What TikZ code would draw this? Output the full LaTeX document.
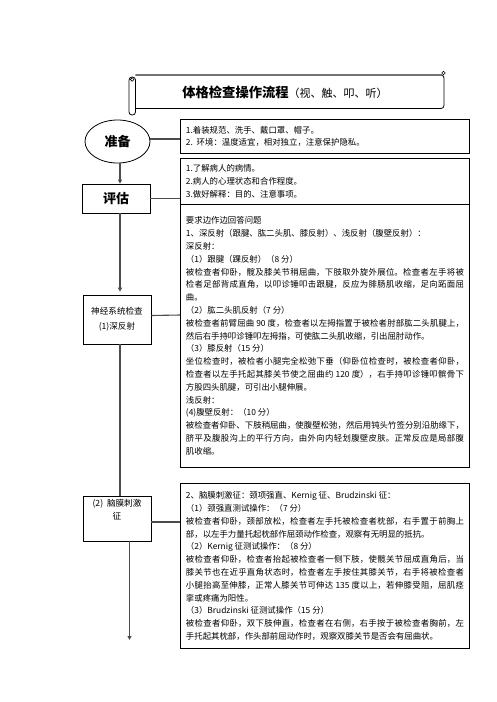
\documentclass[tikz,border=0pt]{standalone}
\usepackage{fontspec}
\setmainfont{Noto Sans CJK SC}
\usetikzlibrary{arrows.meta, shapes.geometric}
\XeTeXlinebreaklocale "zh"
\XeTeXlinebreakskip=0pt plus 1pt minus 0.1pt

\begin{document}
\begin{tikzpicture}[x=1pt, y=-1pt,
    txtbox/.style={draw, line width=0.9pt, anchor=north west, text width=278pt, inner xsep=5.5pt, align=justify, font=\fontsize{8.4}{12.8}\selectfont},
    stepbox/.style={draw, line width=0.8pt, minimum width=68pt, align=center},
    link/.style={draw=black!70, line width=1.1pt},
    arr/.style={link, -{Triangle[length=4pt, width=4pt]}}]
  \useasboundingbox (0,0) rectangle (496,702);
  % title scroll
  \draw[line width=0.8pt, rounded corners=3pt] (135,75) -- (444,75) -- (444,108.5) -- (135,108.5);
  \draw[black!55, line width=1.5pt] (136,75) -- (442,75);
  \draw[line width=0.8pt, rounded corners=3pt, fill=white] (129,77) rectangle (135.5,115);
  \draw[line width=0.6pt] (132.2,79.5) circle (1.8pt);
  \draw[line width=0.6pt] (443.5,73) circle (1.8pt);
  \node (title) at (285,92) {\fontsize{13.3}{16}\selectfont\textbf{体格检查操作流程}\fontsize{11}{14}\selectfont （视、触、叩、听）};

  \node[draw, ellipse, line width=0.8pt, minimum width=65pt, minimum height=43pt, font=\fontsize{13}{16}\selectfont\bfseries] (prep) at (117.5,141.5) {准备};
  \node[stepbox, minimum height=29pt, font=\fontsize{13}{16}\selectfont\bfseries] (eval) at (116,198.5) {评估};
  \node[stepbox, minimum height=49pt, font=\fontsize{8.6}{15}\selectfont] (neuro) at (117,319.5) {神经系统检查\\(1)深反射};
  \node[stepbox, minimum height=45pt, font=\fontsize{8.6}{12.6}\selectfont] (menin) at (117,518.5) {(2)\ \ 脑膜刺激\\征\\[6pt]};

  \node[txtbox, minimum height=34pt] (prepT) at (180,119) {1.着装规范、洗手、戴口罩、帽子。\\2.\ \ 环境：温度适宜，相对独立，注意保护隐私。};
  \node[txtbox, minimum height=46pt] (evalT) at (180,158) {1.了解病人的病情。\\2.病人的心理状态和合作程度。\\3.做好解释：目的、注意事项。};
  \node[txtbox, minimum height=263pt] (neuroT) at (180,204) {要求边作边回答问题\\
    1、深反射（跟腱、肱二头肌、膝反射）、浅反射（腹壁反射）：\\
    深反射：\\
    （1）跟腱（踝反射）（8 分）\\
    被检查者仰卧，髋及膝关节稍屈曲，下肢取外旋外展位。检查者左手将被\linebreak
    检者足部背成直角，以叩诊锤叩击跟腱，反应为腓肠肌收缩，足向跖面屈\linebreak
    曲。\\
    （2）肱二头肌反射（7 分）\\
    被检查者前臂屈曲 90 度，检查者以左拇指置于被检者肘部肱二头肌腱上，\linebreak
    然后右手持叩诊锤叩左拇指，可使肱二头肌收缩，引出屈肘动作。\\
    （3）膝反射（15 分）\\
    坐位检查时，被检者小腿完全松弛下垂（仰卧位检查时，被检查者仰卧，\linebreak
    检查者以左手托起其膝关节使之屈曲约 120 度），右手持叩诊锤叩髌骨下\linebreak
    方股四头肌腱，可引出小腿伸展。\\
    浅反射：\\
    (4)腹壁反射：（10 分）\\
    被检查者仰卧、下肢稍屈曲，使腹壁松弛，然后用钝头竹签分别沿肋缘下，\linebreak
    脐平及腹股沟上的平行方向，由外向内轻划腹壁皮肤。正常反应是局部腹\linebreak
    肌收缩。};
  \node[txtbox, minimum height=165pt] (meninT) at (180,483) {2、脑膜刺激征：颈项强直、Kernig 征、Brudzinski 征：\\
    （1）颈强直测试操作：（7 分）\\
    被检查者仰卧，颈部放松，检查者左手托被检查者枕部，右手置于前胸上\linebreak
    部，以左手力量托起枕部作屈颈动作检查，观察有无明显的抵抗。\\
    （2）Kernig 征测试操作：（8 分）\\
    被检查者仰卧，检查者抬起被检查者一侧下肢，使髋关节屈成直角后，当\linebreak
    膝关节也在近乎直角状态时，检查者左手按住其膝关节，右手将被检查者\linebreak
    小腿抬高至伸膝，正常人膝关节可伸达 135 度以上，若伸膝受阻，屈肌痉\linebreak
    挛或疼痛为阳性。\\
    （3）Brudzinski 征测试操作（15 分）\\
    被检查者仰卧，双下肢伸直，检查者在右侧，右手按于被检查者胸前，左\linebreak
    手托起其枕部，作头部前屈动作时，观察双膝关节是否会有屈曲状。};

  \coordinate (end) at (129.5,640);
  \draw[arr] (prep.south -| 120,0) -- (eval.north -| 120,0);
  \draw[arr] (eval.south -| 120,0) -- ([yshift=3pt]neuro.north -| 120,0);
  \draw[link] (neuro.south -| 120,0) -- (menin.north -| 120,0);
  \draw[arr] (menin.south -| end) -- (end);
  \draw[link] (prep.east |- 0,139) -- (prepT.west |- 0,139);
  \draw[link] (eval.east) -- (evalT.west |- eval.east);
  \draw[link] ([yshift=4pt]neuro.east) -- (neuroT.west |- 0,315);
  \draw[link] ([yshift=-3.5pt]menin.east) -- (meninT.west |- 0,522);
\end{tikzpicture}
\end{document}
